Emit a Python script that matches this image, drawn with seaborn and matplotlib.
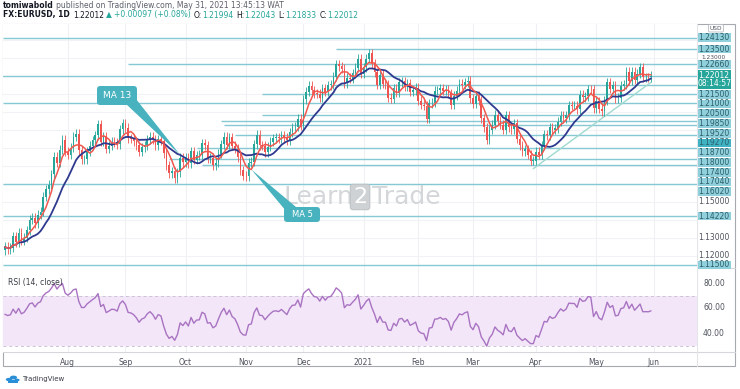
import numpy as np
import pandas as pd
import matplotlib
matplotlib.use("Agg")
import matplotlib.pyplot as plt
import matplotlib.transforms as mtransforms
from matplotlib.patches import FancyBboxPatch, Polygon, Rectangle, Circle
from matplotlib.lines import Line2D
import seaborn as sns

# EURUSD daily closes (Jul 2020 .. May 2021)
jul = [1.1250, 1.1238, 1.1246, 1.1309, 1.1275, 1.1330, 1.1284, 1.1300, 1.1344, 1.1400, 1.1412, 1.1383,
       1.1428, 1.1445, 1.1528, 1.1570, 1.1595, 1.1655, 1.1752, 1.1717, 1.1790, 1.1845, 1.1778]
aug = [1.1762, 1.1800, 1.1862, 1.1878, 1.1787, 1.1737, 1.1738, 1.1783, 1.1813, 1.1842, 1.1870, 1.1932,
       1.1836, 1.1864, 1.1795, 1.1813, 1.1834, 1.1832, 1.1820, 1.1903, 1.1937]
sep = [1.1913, 1.1854, 1.1850, 1.1838, 1.1815, 1.1780, 1.1805, 1.1814, 1.1845, 1.1862, 1.1845, 1.1815,
       1.1848, 1.1840, 1.1772, 1.1703, 1.1660, 1.1672, 1.1632, 1.1665, 1.1745, 1.1722]
octo = [1.1749, 1.1716, 1.1782, 1.1735, 1.1760, 1.1762, 1.1825, 1.1814, 1.1744, 1.1747, 1.1705, 1.1717,
        1.1768, 1.1822, 1.1862, 1.1817, 1.1860, 1.1812, 1.1795, 1.1748, 1.1676, 1.1646]
nov = [1.1642, 1.1717, 1.1723, 1.1822, 1.1874, 1.1815, 1.1812, 1.1777, 1.1808, 1.1834, 1.1855, 1.1859,
       1.1854, 1.1872, 1.1857, 1.1842, 1.1887, 1.1915, 1.1917, 1.1962, 1.1926]
dec = [1.2072, 1.2113, 1.2147, 1.2121, 1.2104, 1.2101, 1.2080, 1.2133, 1.2112, 1.2148, 1.2153, 1.2196,
       1.2265, 1.2255, 1.2240, 1.2160, 1.2190, 1.2186, 1.2216, 1.2245, 1.2297, 1.2213]
jan = [1.2249, 1.2297, 1.2326, 1.2270, 1.2222, 1.2151, 1.2207, 1.2156, 1.2155, 1.2078, 1.2074, 1.2131,
       1.2106, 1.2165, 1.2170, 1.2140, 1.2160, 1.2112, 1.2122, 1.2136]
feb = [1.2062, 1.2039, 1.2035, 1.1963, 1.2048, 1.2051, 1.2118, 1.2120, 1.2132, 1.2118, 1.2124, 1.2104,
       1.2039, 1.2091, 1.2118, 1.2156, 1.2150, 1.2166, 1.2173, 1.2075]
mar = [1.2047, 1.2090, 1.2063, 1.1966, 1.1915, 1.1847, 1.1901, 1.1928, 1.1985, 1.1950, 1.1930, 1.1901,
       1.1981, 1.1915, 1.1905, 1.1938, 1.1852, 1.1815, 1.1781, 1.1794, 1.1763, 1.1730, 1.1730]
apr = [1.1780, 1.1762, 1.1813, 1.1875, 1.1870, 1.1915, 1.1900, 1.1910, 1.1947, 1.1980, 1.1966, 1.1983,
       1.2037, 1.2035, 1.2035, 1.2016, 1.2097, 1.2082, 1.2088, 1.2127, 1.2125, 1.2020]
may = [1.2060, 1.2017, 1.2004, 1.2066, 1.2165, 1.2130, 1.2150, 1.2075, 1.2080, 1.2146, 1.2153, 1.2224,
       1.2175, 1.2225, 1.2180, 1.2213, 1.2250, 1.2193, 1.2194, 1.2193, 1.22012]
first_open = 1.1233
holidays = ["2020-12-25", "2021-01-01"]

# horizontal levels drawn on the chart and the day each one starts
levels = [1.24130, 1.23500, 1.22660, 1.21500, 1.21000, 1.20500, 1.19850, 1.19520, 1.19270,
          1.18700, 1.18000, 1.17400, 1.17040, 1.16020, 1.14220, 1.11500]
level_start = ["2020-07-01", "2020-12-17", "2020-09-02", "2020-12-16", "2020-11-10", "2020-07-01",
               "2020-11-10", "2020-10-20", "2020-10-21", "2020-10-27", "2020-10-07", "2020-09-23",
               "2020-10-09", "2020-07-01", "2020-07-01", "2020-07-01"]
strong_level = 1.19270
price_ticks = [1.15, 1.13, 1.12]
tight_tick = 1.23
rsi_ticks = [80, 60, 40]
trend_dates = ["2021-03-31", "2021-05-31"]
trend_prices = [1.1685, 1.2165]
rsi_seed = (0.0028, 0.0024)   # starting avg gain / loss

closes = jul + aug + sep + octo + nov + dec + jan + feb + mar + apr + may
dates = pd.bdate_range("2020-07-01", "2021-05-31")
dates = dates[~dates.isin(pd.to_datetime(holidays))]

df = pd.DataFrame({"date": dates, "close": closes})
df["i"] = np.arange(len(df))
df["open"] = df["close"].shift(1).fillna(first_open)
df["ma5"] = df["close"].rolling(5, min_periods=1).mean()
df["ma13"] = df["close"].rolling(13, min_periods=1).mean()
delta = df["close"] - df["open"]
gain = pd.concat([pd.Series([rsi_seed[0]]), delta.clip(lower=0)], ignore_index=True)
loss = pd.concat([pd.Series([rsi_seed[1]]), (-delta).clip(lower=0)], ignore_index=True)
ag = gain.ewm(alpha=1 / 14, adjust=False).mean().iloc[1:].values
al = loss.ewm(alpha=1 / 14, adjust=False).mean().iloc[1:].values
df["rsi"] = 100 - 100 / (1 + ag / al)

sns.set_style("white")
plt.rcParams["font.family"] = ["DejaVu Sans"]

W, H = 740, 389
fig = plt.figure(figsize=(W / 100, H / 100), dpi=100)


def fr(x0, y0, x1, y1):
    return [x0 / W, 1 - y1 / H, (x1 - x0) / W, (y1 - y0) / H]


ax = fig.add_axes(fr(3, 24, 697, 268))
ax_rsi = fig.add_axes(fr(3, 268, 697, 352), sharex=ax)
for a in (ax, ax_rsi):
    for s in a.spines.values():
        s.set_visible(False)

xlim = (-0.7, 252.8)
ylim = (1.11333, 1.24889)
ax.set_xlim(*xlim)
ax.set_ylim(*ylim)

up_c, dn_c = "#26a69a", "#ef5350"
line_c = "#86c8d4"

# month ticks
firsts = df.groupby(df["date"].dt.to_period("M"))["i"].first().iloc[1:]
tick_pos = list(firsts.values) + [len(df)]
tick_lab = []
for p in list(firsts.index) + [pd.Period("2021-06", "M")]:
    tick_lab.append(str(p.year) if p.month == 1 else p.strftime("%b"))

for a in (ax, ax_rsi):
    for t in tick_pos:
        a.axvline(t, color="#eef0f4", lw=0.8, zorder=0)
for g in np.arange(1.12, 1.245, 0.01):
    ax.axhline(g, color="#f0f2f6", lw=0.8, zorder=0)

# horizontal levels
idx_of = dict(zip(df["date"], df["i"]))
for v, st in zip(levels, level_start):
    x0 = idx_of[pd.Timestamp(st)]
    ax.hlines(v, x0 if x0 > 0 else xlim[0], xlim[1], color=line_c, lw=1.0, zorder=1)
ax.axhline(df["close"].iloc[-1], color=line_c, lw=1.0, zorder=1)

# trend line
tx = [idx_of[pd.Timestamp(d)] for d in trend_dates]
ax.plot(tx, trend_prices, color="#9fd9cf", lw=1.0, zorder=2)

# candles
wick = 0.0025
body_lo = np.minimum(df["open"], df["close"])
body_hi = np.maximum(df["open"], df["close"])
colors = np.where(df["close"] >= df["open"], up_c, dn_c)
ax.vlines(df["i"], body_lo - wick, body_hi + wick, colors=colors, lw=0.6, zorder=3)
ax.bar(df["i"], np.maximum(body_hi - body_lo, 0.0003), bottom=body_lo, width=0.6,
       color=colors, zorder=3, linewidth=0)

sns.lineplot(x=df["i"], y=df["ma13"], ax=ax, color="#2f3a8f", lw=1.3, zorder=4)
sns.lineplot(x=df["i"], y=df["ma5"], ax=ax, color="#f0584f", lw=1.1, zorder=5)
ax.set_xlabel("")
ax.set_ylabel("")
ax.set_yticks([])
ax.tick_params(axis="x", length=0, labelbottom=False)


def px2data(px, py):
    x = xlim[0] + (px - 3) / 694 * (xlim[1] - xlim[0])
    y = ylim[1] - (py - 24) / 244 * (ylim[1] - ylim[0])
    return x, y


# watermark
wm_c = "#d4d7da"
x0, y0 = px2data(283, 197)
ax.text(x0, y0, "Learn", fontsize=18, color=wm_c, va="center", ha="left", zorder=2)
x1, _ = px2data(353, 197)
ax.text(x1, y0, "2", fontsize=16, color="white", va="center", ha="left", zorder=2,
        bbox=dict(boxstyle="round,pad=0.12", fc="#cfd2d5", ec="#bfc3c7", lw=0.8))
x2, _ = px2data(372, 197)
ax.text(x2, y0, "Trade", fontsize=18, color=wm_c, va="center", ha="left", zorder=2)


def callout(box, text, base, tip, fs):
    bx0, by0 = px2data(box[0], box[3])
    bx1, by1 = px2data(box[2], box[1])
    poly = [px2data(*base[0]), px2data(*base[1]), tip]
    ax.add_patch(Polygon(poly, closed=True, fc="#48b3bf", ec="none", zorder=6))
    ax.add_patch(FancyBboxPatch((bx0, by0), bx1 - bx0, by1 - by0,
                                boxstyle="round,pad=0,rounding_size=1.2",
                                mutation_aspect=(ylim[1] - ylim[0]) / 244 * 2.738,
                                fc="#48b3bf", ec="none", zorder=6))
    ax.text((bx0 + bx1) / 2, (by0 + by1) / 2, text, color="white", fontsize=fs,
            ha="center", va="center", zorder=7)


tip13 = (64, df["ma13"].iloc[64])
tip5 = (90, df["ma5"].iloc[90])
callout((97, 86, 137, 105), "MA 13", [(126, 104), (136, 99)], tip13, 6.5)
callout((284, 207, 320, 222), "MA 5", [(286, 211), (296, 207)], tip5, 6)

# price scale labels with push-apart
blend = mtransforms.blended_transform_factory(ax.transAxes, ax.transData)
px_per_price = 244 / (ylim[1] - ylim[0])
lab_x = 1 + 17 / 694
for g in price_ticks:
    ax.text(lab_x, g, f"{g:.5f}", transform=blend, fontsize=5.5, color="#50535e",
            ha="center", va="center", clip_on=False, zorder=8)
# this tick sits squeezed between two level boxes
ax.text(lab_x, tight_tick + 0.6 / px_per_price, f"{tight_tick:.5f}", transform=blend,
        fontsize=4.2, color="#50535e", ha="center", va="center", clip_on=False, zorder=8)

items = [(v, 9.75, "lvl") for v in levels] + [(df["close"].iloc[-1] - 4 / px_per_price, 19.0, "price")]
items.sort(key=lambda t: -t[0])
prev_bottom = -1e9
for v, h, kind in items:
    ypx = (ylim[1] - v) * px_per_price
    ypx = max(ypx, prev_bottom + h / 2)
    prev_bottom = ypx + h / 2
    yv = ylim[1] - ypx / px_per_price
    if kind == "price":
        ax.add_patch(Rectangle((1 + 1 / 694, yv - 9.5 / px_per_price), 33 / 694, 19 / px_per_price,
                               transform=blend, fc=up_c, ec="none", clip_on=False, zorder=9))
        ax.text(lab_x, yv + 4 / px_per_price, f"{df['close'].iloc[-1]:.5f}", transform=blend,
                fontsize=5.5, color="white", ha="center", va="center", clip_on=False, zorder=10)
        ax.text(lab_x, yv - 4 / px_per_price, "08:14:57", transform=blend,
                fontsize=5.5, color="white", ha="center", va="center", clip_on=False, zorder=10)
    else:
        fc = "#3fb3c4" if v == strong_level else "#8fd0dc"
        ax.add_patch(Rectangle((1 + 1 / 694, yv - 4.4 / px_per_price), 33 / 694, 8.8 / px_per_price,
                               transform=blend, fc=fc, ec="none", clip_on=False, zorder=9))
        ax.text(lab_x, yv, f"{v:.5f}", transform=blend, fontsize=5.5, color="#2d5e68",
                ha="center", va="center", clip_on=False, zorder=10)

fig.text(716 / W, 1 - 28.3 / H, "USD", fontsize=4.2, color="#50535e", ha="center", va="center",
         bbox=dict(boxstyle="round,pad=0.2", fc="white", ec="#b8bbc2", lw=0.6), zorder=11)

# RSI pane
ax_rsi.set_ylim(24.8, 92)
ax_rsi.axhspan(30, 70, color="#f2e6f8", lw=0, zorder=0)
for lv in (70, 30):
    ax_rsi.axhline(lv, color="#c9c3d3", lw=0.7, ls=(0, (3, 3)), zorder=1)
sns.lineplot(x=df["i"], y=df["rsi"], ax=ax_rsi, color="#a973c2", lw=1.0, zorder=3)
ax_rsi.set_xlabel("")
ax_rsi.set_ylabel("")
ax_rsi.set_yticks([])
ax_rsi.set_xticks(tick_pos)
ax_rsi.set_xticklabels(tick_lab, fontsize=5.5, color="#50535e")
ax_rsi.tick_params(axis="x", length=0, pad=4)
ax_rsi.set_xlim(*xlim)
rblend = mtransforms.blended_transform_factory(ax_rsi.transAxes, ax_rsi.transData)
for r in rsi_ticks:
    ax_rsi.text(1 + 6 / 694, r, f"{r:.2f}", transform=rblend, fontsize=5.5, color="#50535e",
                ha="left", va="center", clip_on=False)
ax_rsi.text(5 / 694, 1 - 15 / 84, "RSI (14, close)", transform=ax_rsi.transAxes,
            fontsize=5.5, color="#3a3d47", ha="left", va="center")

# frame and separators
fl = dict(transform=fig.transFigure, lw=0.8, zorder=0)
fig.add_artist(Rectangle((3 / W, 1 - 366 / H), 732 / W, 342 / H, fill=False, ec="#a6a9b0", **fl))
fig.add_artist(Line2D([3 / W, 735 / W], [1 - 268 / H] * 2, color="#d5d7dc", **fl))
fig.add_artist(Line2D([3 / W, 735 / W], [1 - 352 / H] * 2, color="#d5d7dc", **fl))
fig.add_artist(Line2D([697 / W] * 2, [1 - 24 / H, 1 - 366 / H], color="#e3e5e9", **fl))

# header
renderer = fig.canvas.get_renderer()


def text_run(x_px, y_px, pieces, size):
    x = x_px
    for s, color, weight, gap in pieces:
        t = fig.text(x / W, 1 - y_px / H, s, color=color, fontsize=size, fontweight=weight,
                     ha="left", va="center")
        x += t.get_window_extent(renderer=renderer).width + gap


dark, grey, grn = "#131722", "#5d606b", "#26a69a"
text_run(3, 5, [("tomiwabold", dark, "bold", 2),
                ("published on TradingView.com, May 31, 2021 13:45:13 WAT", grey, "normal", 0)], 5.5)
text_run(3, 15, [("FX:EURUSD, 1D", dark, "bold", 3), ("1.22012", dark, "normal", 2),
                 ("▲", grn, "normal", 2), ("+0.00097 (+0.08%)", grn, "normal", 3),
                 ("O:", dark, "normal", 0.5), ("1.21994", grn, "normal", 2.5),
                 ("H:", dark, "normal", 0.5), ("1.22043", grn, "normal", 2.5),
                 ("L:", dark, "normal", 0.5), ("1.21833", grn, "normal", 2.5),
                 ("C:", dark, "normal", 0.5), ("1.22012", grn, "normal", 0)], 5.5)

# TradingView footer: small cloud mark + name
ft = dict(transform=fig.transFigure, fc="#2a8fd6", ec="none")
for cx, cy, r in [(9, 379.5, 3.2), (13.5, 377.5, 3.6), (17, 380, 2.6)]:
    fig.add_artist(Circle((cx / W, 1 - cy / H), r / W, **ft))
fig.add_artist(Rectangle((8 / W, 1 - 382.5 / H), 10 / W, 3 / H, **ft))
fig.text(22 / W, 1 - 379 / H, "TradingView", fontsize=5, color="#3a3d47", ha="left", va="center")

fig.savefig("out.png", dpi=100, facecolor="white")
